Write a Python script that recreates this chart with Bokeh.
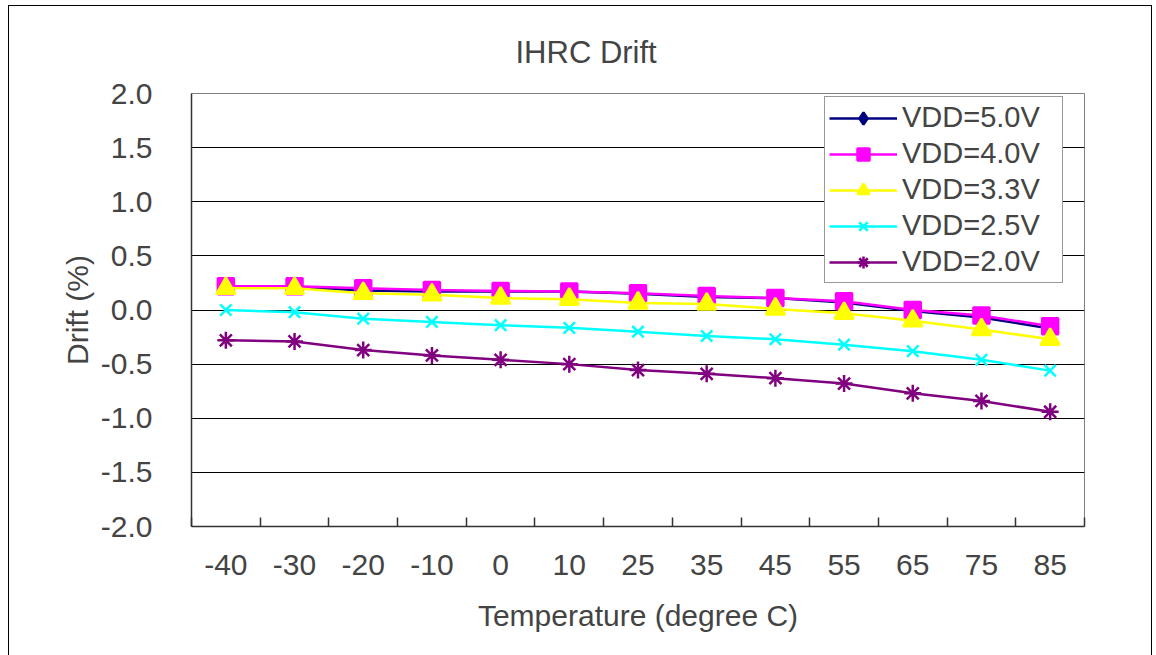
from bokeh.plotting import figure
from bokeh.models import Range1d, FixedTicker, CustomJSTickFormatter, NumeralTickFormatter, Legend, LegendItem
from bokeh.embed import file_html
from bokeh.resources import INLINE

temps = ["-40", "-30", "-20", "-10", "0", "10", "25", "35", "45", "55", "65", "75", "85"]
vdd50 = [0.21, 0.21, 0.18, 0.17, 0.17, 0.17, 0.15, 0.12, 0.11, 0.07, -0.01, -0.07, -0.17]
vdd40 = [0.22, 0.22, 0.20, 0.185, 0.175, 0.17, 0.155, 0.13, 0.11, 0.08, 0.0, -0.05, -0.15]
vdd33 = [0.20, 0.20, 0.155, 0.14, 0.11, 0.10, 0.065, 0.055, 0.01, -0.03, -0.10, -0.18, -0.27]
vdd25 = [0.0, -0.02, -0.08, -0.11, -0.14, -0.165, -0.20, -0.24, -0.27, -0.32, -0.38, -0.46, -0.56]
vdd20 = [-0.28, -0.29, -0.37, -0.42, -0.46, -0.50, -0.555, -0.59, -0.63, -0.68, -0.77, -0.84, -0.94]
y_ticks = [-2.0, -1.5, -1.0, -0.5, 0.0, 0.5, 1.0, 1.5, 2.0]

series = [
    ("VDD=5.0V", vdd50, "#000080", "diamond", 14),
    ("VDD=4.0V", vdd40, "#FF00FF", "square", 16),
    ("VDD=3.3V", vdd33, "#FFFF00", "triangle", 19),
    ("VDD=2.5V", vdd25, "#00FFFF", "x", 16),
    ("VDD=2.0V", vdd20, "#800080", "asterisk", 17),
]

FONT = "Liberation Sans"
xs = [i + 0.5 for i in range(len(temps))]

p = figure(width=1144, height=650, output_backend="svg", toolbar_location=None,
           x_range=Range1d(0, len(temps)), y_range=Range1d(-2, 2),
           min_border_left=182, min_border_right=69, min_border_top=87, min_border_bottom=130)
p.styles = {"margin-left": "8px", "margin-top": "5px",
            "border-left": "1.5px solid black", "border-top": "1.5px solid black",
            "border-right": "1.5px solid black"}

p.title.text = "IHRC Drift"
p.title.align = "left"
p.title.offset = 324
p.title.text_font = FONT
p.title.text_font_size = "31px"
p.title.text_font_style = "normal"
p.title.standoff = 48

p.outline_line_color = "#808080"
p.outline_line_width = 1
p.xgrid.visible = False
p.ygrid.ticker = FixedTicker(ticks=y_ticks)
p.ygrid.grid_line_color = "black"
p.ygrid.grid_line_width = 1

xa = p.xaxis[0]
xa.ticker = FixedTicker(ticks=xs, minor_ticks=list(range(len(temps) + 1)))
xa.formatter = CustomJSTickFormatter(args=dict(labels=temps), code="return labels[Math.floor(tick)];")
xa.major_tick_line_color = None
xa.minor_tick_in = 9
xa.minor_tick_out = 0
xa.minor_tick_line_color = "#333333"
xa.minor_tick_line_width = 1.5
xa.axis_line_color = "#333333"
xa.axis_line_width = 1.5
xa.major_label_text_font = FONT
xa.major_label_text_font_size = "30px"
xa.major_label_standoff = 22
xa.axis_label = "Temperature (degree C)"
xa.axis_label_text_font = FONT
xa.axis_label_text_font_size = "30px"
xa.axis_label_text_font_style = "normal"
xa.axis_label_standoff = 21

ya = p.yaxis[0]
ya.ticker = FixedTicker(ticks=y_ticks)
ya.formatter = NumeralTickFormatter(format="0.0")
ya.major_tick_line_color = None
ya.minor_tick_line_color = None
ya.axis_line_color = "#333333"
ya.axis_line_width = 1.5
ya.major_label_text_font = FONT
ya.major_label_text_font_size = "30px"
ya.major_label_standoff = 33
ya.axis_label = "Drift (%)"
ya.axis_label_text_font = FONT
ya.axis_label_text_font_size = "30px"
ya.axis_label_text_font_style = "normal"
ya.axis_label_standoff = 4

items = []
for name, vals, color, marker, size in series:
    r1 = p.line(xs, vals, line_color=color, line_width=2.5)
    r2 = p.scatter(xs, vals, marker=marker, size=size, fill_color=color, line_color=color, line_width=2.5)
    items.append(LegendItem(label=name, renderers=[r1, r2]))

legend = Legend(items=items, location=(633, 243))
legend.label_text_font = FONT
legend.label_text_font_size = "29px"
legend.label_height = 30
legend.glyph_height = 30
legend.glyph_width = 68
legend.label_standoff = 5
legend.label_width = 156
legend.spacing = 3
legend.padding = 4
legend.margin = 0
legend.border_line_color = "#333333"
legend.border_line_width = 1
legend.background_fill_alpha = 1
p.add_layout(legend, "center")

open("out.html", "w").write(file_html(p, INLINE))
